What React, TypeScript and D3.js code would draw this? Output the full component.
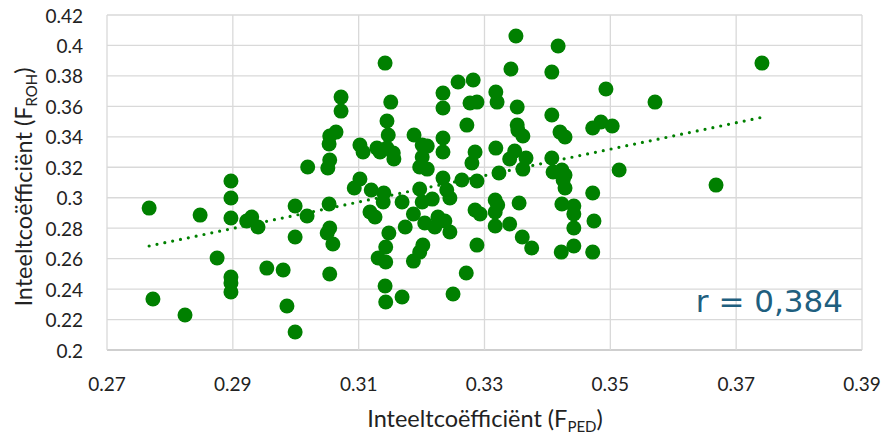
import React from 'react';
import * as d3 from 'd3';

// F_PED (x) and F_ROH (y) per animal
const fped = [
  0.2767, 0.2773, 0.2824, 0.2848, 0.2875, 0.2897, 0.2897, 0.2897, 0.2897, 0.2897,
  0.2897, 0.2930, 0.2922, 0.2940, 0.2954, 0.2980, 0.2986, 0.2999, 0.2999, 0.2999,
  0.3018, 0.3019, 0.3053, 0.3054, 0.3050, 0.3059, 0.3054, 0.3072, 0.3072, 0.3064,
  0.3054, 0.3053, 0.3054, 0.3051, 0.3102, 0.3107, 0.3102, 0.3093, 0.3120, 0.3140,
  0.3139, 0.3118, 0.3126, 0.3148, 0.3143, 0.3131, 0.3143, 0.3142, 0.3143, 0.3169,
  0.3142, 0.3151, 0.3145, 0.3129, 0.3134, 0.3147, 0.3145, 0.3155, 0.3156, 0.3169,
  0.3174, 0.3187, 0.3188, 0.3201, 0.3209, 0.3201, 0.3197, 0.3209, 0.3197, 0.3217,
  0.3201, 0.3205, 0.3202, 0.3197, 0.3187, 0.3221, 0.3226, 0.3237, 0.3245, 0.3234,
  0.3240, 0.3245, 0.3234, 0.3234, 0.3234, 0.3234, 0.3264, 0.3288, 0.3271, 0.3250,
  0.3285, 0.3288, 0.3258, 0.3282, 0.3277, 0.3288, 0.3272, 0.3285, 0.3280, 0.3350,
  0.3417, 0.3342, 0.3407, 0.3318, 0.3320, 0.3352, 0.3407, 0.3493, 0.3571, 0.3352,
  0.3353, 0.3361, 0.3420, 0.3428, 0.3472, 0.3485, 0.3503, 0.3318, 0.3348, 0.3340,
  0.3366, 0.3361, 0.3407, 0.3323, 0.3409, 0.3423, 0.3428, 0.3425, 0.3514, 0.3428,
  0.3472, 0.3317, 0.3321, 0.3317, 0.3355, 0.3293, 0.3317, 0.3340, 0.3423, 0.3442,
  0.3442, 0.3474, 0.3442, 0.3360, 0.3375, 0.3422, 0.3442, 0.3472, 0.3741, 0.3668,
];

const froh = [
  0.2932, 0.2335, 0.2230, 0.2886, 0.2604, 0.3110, 0.2998, 0.2867, 0.2479, 0.2440,
  0.2381, 0.2873, 0.2847, 0.2808, 0.2538, 0.2525, 0.2289, 0.2118, 0.2946, 0.2742,
  0.2880, 0.3202, 0.2959, 0.2801, 0.2768, 0.2696, 0.2499, 0.3661, 0.3569, 0.3431,
  0.3405, 0.3353, 0.3248, 0.3195, 0.3346, 0.3300, 0.3123, 0.3064, 0.3051, 0.3031,
  0.2972, 0.2906, 0.2873, 0.2768, 0.2676, 0.2604, 0.2578, 0.2420, 0.2315, 0.2348,
  0.3884, 0.3628, 0.3504, 0.3326, 0.3300, 0.3412, 0.3326, 0.3293, 0.3254, 0.2972,
  0.2808, 0.2893, 0.3412, 0.3346, 0.3339, 0.3267, 0.3202, 0.3188, 0.3057, 0.2991,
  0.2972, 0.2834, 0.2689, 0.2643, 0.2584, 0.2808, 0.2873, 0.2847, 0.2775, 0.3129,
  0.3051, 0.2998, 0.3687, 0.3589, 0.3392, 0.3300, 0.3116, 0.3110, 0.2506, 0.2368,
  0.2919, 0.2689, 0.3760, 0.3773, 0.3622, 0.3628, 0.3477, 0.3300, 0.3228, 0.4062,
  0.3996, 0.3845, 0.3825, 0.3694, 0.3628, 0.3596, 0.3543, 0.3714, 0.3628, 0.3477,
  0.3444, 0.3405, 0.3431, 0.3399, 0.3458, 0.3497, 0.3471, 0.3326, 0.3307, 0.3254,
  0.3261, 0.3188, 0.3261, 0.3162, 0.3169, 0.3182, 0.3149, 0.3116, 0.3182, 0.3064,
  0.3031, 0.2985, 0.2952, 0.2906, 0.2965, 0.2893, 0.2814, 0.2827, 0.2959, 0.2945,
  0.2893, 0.2847, 0.2801, 0.2742, 0.2670, 0.2643, 0.2683, 0.2643, 0.3884, 0.3083,
];

// linear trendline end points
const trendX = [0.2767, 0.3741];
const trendY = [0.2683, 0.3528];

const xTicks = [0.27, 0.29, 0.31, 0.33, 0.35, 0.37, 0.39];
const yTicks = [0.2, 0.22, 0.24, 0.26, 0.28, 0.3, 0.32, 0.34, 0.36, 0.38, 0.4, 0.42];
const rLabel = 'r = 0,384';

const width = 885;
const height = 438;
const margin = { left: 107, right: 23, top: 15, bottom: 88 };
const green = '#008000';
const font = 'Lato, "Open Sans", sans-serif';

export default function App() {
  const x = d3.scaleLinear().domain([0.27, 0.39]).range([margin.left, width - margin.right]);
  const y = d3.scaleLinear().domain([0.2, 0.42]).range([height - margin.bottom, margin.top]);
  const fmt = (v: number) => String(+v.toFixed(2));

  const points = fped.map((v, i) => [v, froh[i]]);
  const trend = d3.line<number>()
    .x(d => x(d))
    .y((d, i) => y(trendY[i]))(trendX);

  return (
    <svg width={width} height={height} style={{ position: 'absolute', left: 0, top: 0 }}>
      <rect width={width} height={height} fill="#fff" />
      <g>
        {yTicks.map(t => (
          <line key={'gy' + t} x1={x(0.27)} x2={x(0.39)} y1={y(t)} y2={y(t)}
            stroke={t === 0.2 ? '#bfbfbf' : '#d9d9d9'} strokeWidth={1.3} />
        ))}
        {xTicks.map(t => (
          <line key={'gx' + t} x1={x(t)} x2={x(t)} y1={y(0.2)} y2={y(0.42)}
            stroke="#d9d9d9" strokeWidth={1.3} />
        ))}
      </g>
      <g>
        {points.map((p, i) => (
          <circle key={i} cx={x(p[0])} cy={y(p[1])} r={7.5} fill={green} />
        ))}
      </g>
      <path d={trend || ''} fill="none" stroke={green} strokeWidth={3.2}
        strokeDasharray="0 8" strokeLinecap="round" />
      <g fontFamily={font} fontSize={19} fill="#222">
        {yTicks.map(t => (
          <text key={'ty' + t} x={83} y={y(t)} textAnchor="end" dominantBaseline="central">{fmt(t)}</text>
        ))}
        {xTicks.map(t => (
          <text key={'tx' + t} x={x(t)} y={383} textAnchor="middle" dominantBaseline="central">{fmt(t)}</text>
        ))}
      </g>
      <text x={485} y={427} textAnchor="middle" fontFamily={font} fontSize={23.5} fill="#222">
        Inteeltcoëfficiënt (F<tspan fontSize={15} dy={5}>PED</tspan><tspan dy={-5}>)</tspan>
      </text>
      <text transform={`translate(32,${187}) rotate(-90)`} textAnchor="middle"
        fontFamily={font} fontSize={23.5} fill="#222">
        Inteeltcoëfficiënt (F<tspan fontSize={15} dy={5}>ROH</tspan><tspan dy={-5}>)</tspan>
      </text>
      <text x={843} y={312} textAnchor="end" fontFamily='"DejaVu Sans", Verdana, sans-serif'
        fontSize={31} fill="#1f5f7f">{rLabel}</text>
    </svg>
  );
}
